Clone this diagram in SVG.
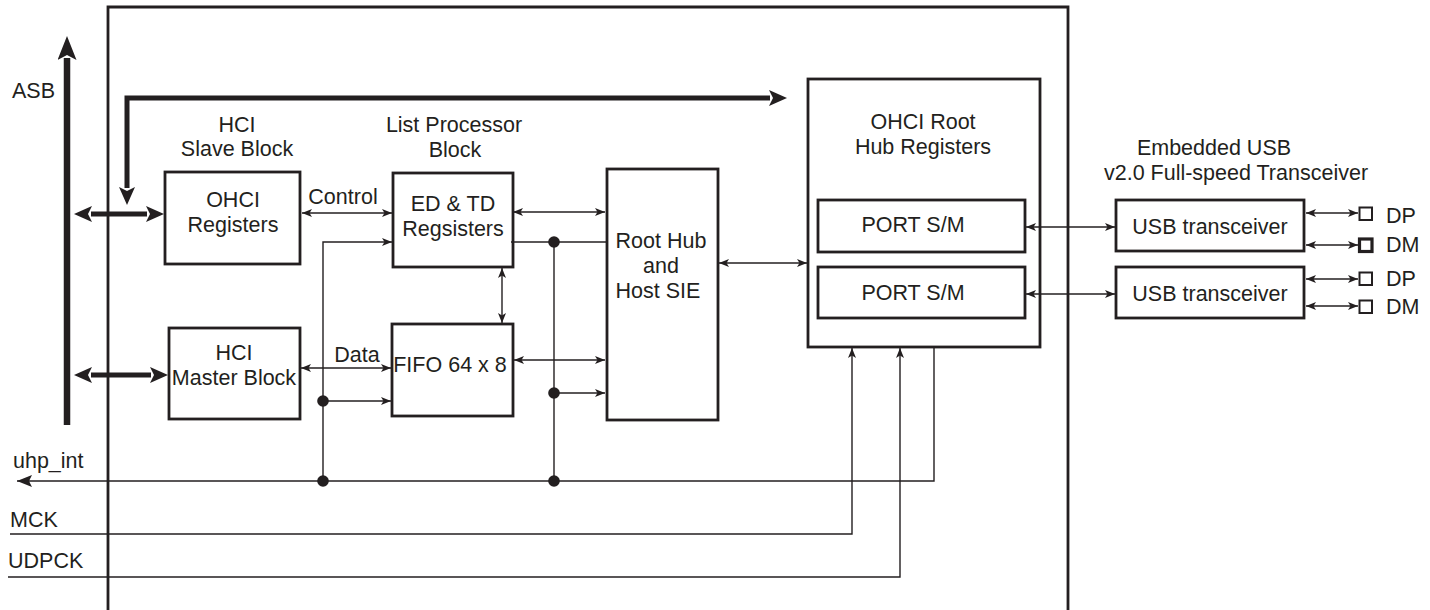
<svg xmlns="http://www.w3.org/2000/svg" width="1430" height="610" viewBox="0 0 1430 610">
<style>
text{font-family:"Liberation Sans",Arial,sans-serif;font-size:21.5px;fill:#231f20}
.m{text-anchor:middle}
.box{fill:none;stroke:#231f20;stroke-width:2.8}
.thin{fill:none;stroke:#231f20;stroke-width:1.4}
.bus{fill:none;stroke:#231f20;stroke-width:5;stroke-linejoin:miter}
.dot{fill:#231f20}
</style>
<defs>
<marker id="a" viewBox="0 0 10 8" refX="10" refY="4" markerWidth="10" markerHeight="8" markerUnits="userSpaceOnUse" orient="auto-start-reverse"><path d="M0,0 L10,4 L0,8 L2.5,4 z" fill="#231f20"/></marker>
<marker id="a2" viewBox="0 0 15 12" refX="15" refY="6" markerWidth="15" markerHeight="12" markerUnits="userSpaceOnUse" orient="auto-start-reverse"><path d="M0,0 L15,6 L0,12 L3,6 z" fill="#231f20"/></marker>
<marker id="b" viewBox="0 0 18 16" refX="1" refY="8" markerWidth="18" markerHeight="16" markerUnits="userSpaceOnUse" orient="auto-start-reverse"><path d="M0,0 L18,8 L0,16 L4,8 z" fill="#231f20"/></marker>
<marker id="c" viewBox="0 0 24 19" refX="2" refY="9.5" markerWidth="24" markerHeight="19" markerUnits="userSpaceOnUse" orient="auto"><path d="M0,0 L24,9.5 L0,19 L5,9.5 z" fill="#231f20"/></marker>
</defs>

<g id="outer"><path d="M108,615 V7 H1068 V615" class="box" stroke-width="2.5"/></g>

<g id="asb">
<line x1="67" y1="425" x2="67" y2="58" stroke="#231f20" stroke-width="6.5" marker-end="url(#c)"/>
<text x="12" y="98">ASB</text>
</g>

<g id="hci-slave">
<text class="m" x="237" y="132">HCI</text>
<text class="m" x="237" y="156">Slave Block</text>
<rect class="box" x="165" y="172" width="135" height="92"/>
<text class="m" x="233" y="207">OHCI</text>
<text class="m" x="233" y="232">Registers</text>
</g>

<g id="hci-master">
<rect class="box" x="169" y="328" width="131" height="91"/>
<text class="m" x="234" y="360">HCI</text>
<text class="m" x="234" y="385">Master Block</text>
</g>

<g id="list-proc">
<text class="m" x="454" y="132">List Processor</text>
<text class="m" x="455" y="157">Block</text>
</g>

<g id="edtd">
<rect class="box" x="393" y="173" width="120" height="94"/>
<text class="m" x="453" y="211">ED &amp; TD</text>
<text class="m" x="453" y="236">Regsisters</text>
</g>

<g id="fifo">
<rect class="box" x="392" y="324" width="121" height="92"/>
<text class="m" x="450" y="372">FIFO 64 x 8</text>
</g>

<g id="roothub">
<rect class="box" x="607" y="169" width="111" height="251"/>
<text class="m" x="661" y="248">Root Hub</text>
<text class="m" x="661" y="273">and</text>
<text class="m" x="658" y="298">Host SIE</text>
</g>

<g id="ohci-root">
<rect class="box" x="808" y="79" width="232" height="268"/>
<text class="m" x="923" y="129">OHCI Root</text>
<text class="m" x="923" y="154">Hub Registers</text>
</g>
<g id="port1">
<rect class="box" x="818" y="200" width="207" height="52"/>
<text class="m" x="913" y="232">PORT S/M</text>
</g>
<g id="port2">
<rect class="box" x="818" y="267" width="207" height="51"/>
<text class="m" x="913" y="300">PORT S/M</text>
</g>

<g id="embedded">
<text class="m" x="1214" y="155">Embedded USB</text>
<text class="m" x="1236" y="180">v2.0 Full-speed Transceiver</text>
</g>
<g id="usb1">
<rect class="box" x="1116" y="200" width="188" height="51"/>
<text class="m" x="1210" y="234">USB transceiver</text>
</g>
<g id="usb2">
<rect class="box" x="1116" y="267" width="188" height="51"/>
<text class="m" x="1210" y="301">USB transceiver</text>
</g>

<g id="pins">
<rect x="1359.5" y="207.5" width="12.5" height="12.5" fill="none" stroke="#231f20" stroke-width="2"/>
<rect x="1359.5" y="239" width="12.5" height="12.5" fill="none" stroke="#231f20" stroke-width="3.2"/>
<rect x="1359.5" y="272.5" width="12.5" height="12.5" fill="none" stroke="#231f20" stroke-width="2"/>
<rect x="1359.5" y="300.5" width="12.5" height="12.5" fill="none" stroke="#231f20" stroke-width="2"/>
<text x="1386" y="223">DP</text>
<text x="1386" y="252">DM</text>
<text x="1386" y="286">DP</text>
<text x="1386" y="314">DM</text>
</g>

<g id="signals">
<text x="13" y="468">uhp_int</text>
<text x="10" y="527">MCK</text>
<text x="8" y="568">UDPCK</text>
</g>

<g id="connectors">
<path class="bus" d="M127,188 V98 H770" marker-start="url(#b)" marker-end="url(#b)"/>
<line class="bus" x1="91" y1="214" x2="147" y2="214" marker-start="url(#b)" marker-end="url(#b)"/>
<line class="bus" x1="91" y1="375" x2="151" y2="375" marker-start="url(#b)" marker-end="url(#b)"/>

<line class="thin" x1="302" y1="213" x2="392" y2="213" marker-start="url(#a)" marker-end="url(#a)"/>
<text class="m" x="343" y="204">Control</text>
<path class="thin" d="M323,481 V242 H392" marker-end="url(#a)"/>
<line class="thin" x1="513" y1="212" x2="605" y2="212" marker-start="url(#a)" marker-end="url(#a)"/>
<line class="thin" x1="511" y1="242" x2="606" y2="242"/>
<line class="thin" x1="554" y1="242" x2="554" y2="481"/>
<line class="thin" x1="502" y1="268" x2="502" y2="323" marker-start="url(#a)" marker-end="url(#a)"/>
<line class="thin" x1="301" y1="368" x2="391" y2="368" marker-start="url(#a)" marker-end="url(#a)"/>
<text class="m" x="357" y="362">Data</text>
<line class="thin" x1="514" y1="360" x2="605" y2="360" marker-start="url(#a)" marker-end="url(#a)"/>
<line class="thin" x1="323" y1="401" x2="391" y2="401" marker-end="url(#a)"/>
<line class="thin" x1="554" y1="393" x2="605" y2="393" marker-end="url(#a)"/>
<line class="thin" x1="719" y1="263" x2="807" y2="263" marker-start="url(#a)" marker-end="url(#a)"/>
<path class="thin" d="M934,348 V481 H17" marker-end="url(#a2)"/>
<path class="thin" d="M10,534 H852 V348" marker-end="url(#a)"/>
<path class="thin" d="M8,577 H900 V348" marker-end="url(#a)"/>
<line class="thin" x1="1026" y1="227" x2="1115" y2="227" marker-start="url(#a)" marker-end="url(#a)"/>
<line class="thin" x1="1026" y1="294" x2="1115" y2="294" marker-start="url(#a)" marker-end="url(#a)"/>
<line class="thin" x1="1306" y1="213" x2="1358" y2="213" marker-start="url(#a)" marker-end="url(#a)"/>
<line class="thin" x1="1306" y1="245" x2="1358" y2="245" marker-start="url(#a)" marker-end="url(#a)"/>
<line class="thin" x1="1306" y1="279" x2="1358" y2="279" marker-start="url(#a)" marker-end="url(#a)"/>
<line class="thin" x1="1306" y1="306" x2="1358" y2="306" marker-start="url(#a)" marker-end="url(#a)"/>
<circle class="dot" cx="554" cy="242" r="5.8"/>
<circle class="dot" cx="323" cy="401" r="5.8"/>
<circle class="dot" cx="554" cy="393" r="5.8"/>
<circle class="dot" cx="323" cy="481" r="5.8"/>
<circle class="dot" cx="554" cy="481" r="5.8"/>
</g>
</svg>
